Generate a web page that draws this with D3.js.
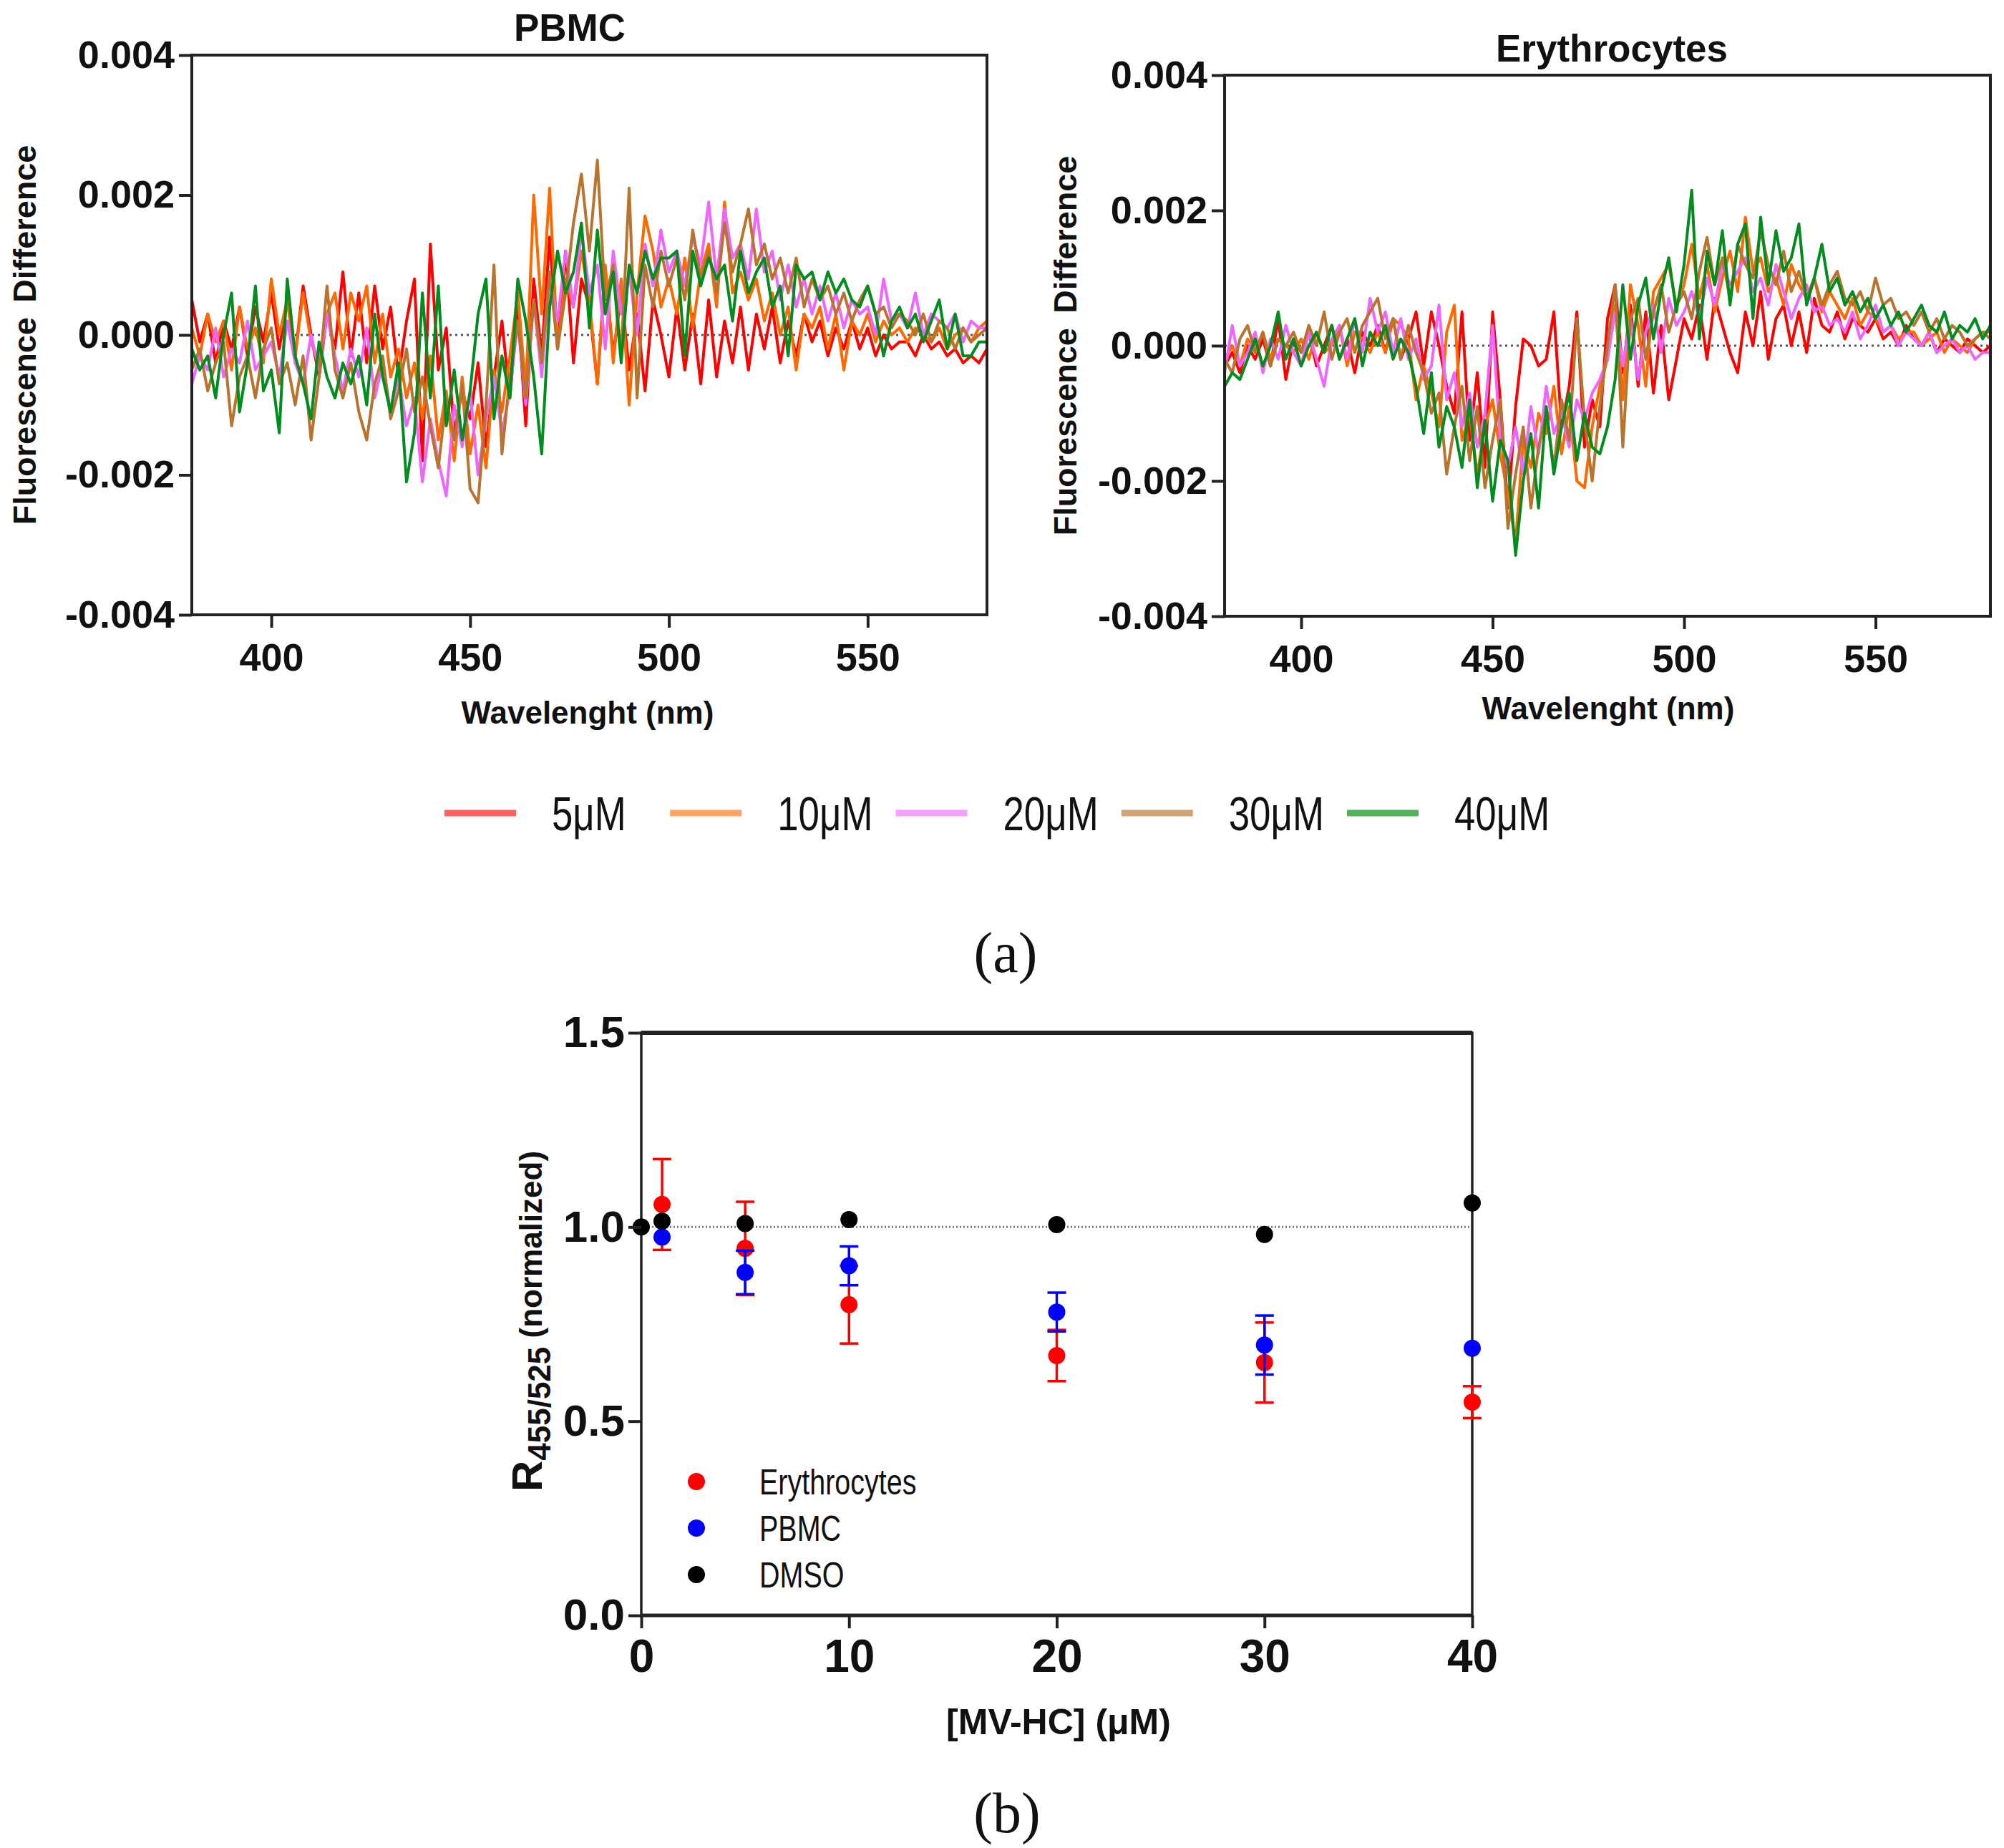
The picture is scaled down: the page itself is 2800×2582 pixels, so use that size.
<!DOCTYPE html>
<html>
<head>
<meta charset="utf-8">
<script src="https://cdn.jsdelivr.net/npm/d3@7"></script>
<style>
body { margin: 0; background: #fff; }
svg text { font-family: "Liberation Sans", Arial, sans-serif; fill: #111; }
</style>
</head>
<body>
<svg id="fig" width="2800" height="2582"></svg>
<script>
// ---- data (spectra, in units of 1e-4) ----
var wavelengths = d3.range(380, 581, 2);
var spectrumUnit = 1e-4;

var pbmc5 = [5,-1,3,-4,2,-2,4,-3,4,-1, 6,-2,5,-3,7,0,-6,3,-2,9, -3,6,-4,7,-2,4,-6,2,8,-18,
	13,-5,1,-14,-8,-12,-4,-16,-6,2, -9,4,-13,8,-3,14,-2,12,-4,8, 4,-7,9,-3,6,-5,3,-8,5,0,
	-6,4,-5,3,-7,5,-6,2,-4,4, -5,3,-2,4,-4,2,-3,3,-1,2, -3,1,-2,2,-2,1,-3,0,-2,-1, -1,-3,0,-2,-1,-3,-2,-4,-3,-4, -2];
var pbmc10 = [1,-3,3,-1,2,-5,4,-2,1,-4, 8,0,5,-3,6,-1,-4,3,6,-2, 6,2,7,-4,3,-6,-2,-9,-4,-12,
	-3,-15,-8,-18,-6,-17,-10,-19,-5,-11, -3,6,-8,20,3,21,-2,8,4,12, 5,-7,10,-4,8,-10,6,17,12,4,
	8,3,11,1,9,13,4,19,6,9, 5,8,2,6,0,4,-5,3,1,4, -2,3,-5,2,0,3,-1,2,0,1, -1,1,0,-1,1,-2,0,1,-1,1, 2];
var pbmc20 = [-7,-3,-5,1,-6,-2,-4,2,-5,-3, -1,-6,2,-4,-7,0,-5,3,-3,-8, -2,-6,1,-9,-4,-11,-6,-13,-9,-21,
	-12,-18,-23,-10,-16,-8,-20,-12,-6,-14, -8,2,-10,5,-6,8,2,12,4,15, 6,10,-2,12,3,9,0,13,7,15,
	9,12,7,14,10,19,8,18,11,13, 8,18,9,12,5,10,4,8,3,7, 2,6,1,5,3,4,0,8,2,3, 1,6,0,3,2,1,3,-1,2,1, 1];
var pbmc30 = [-5,-2,-8,-4,-1,-13,-6,-3,-9,-2, 1,-7,-4,-10,-3,-15,-6,7,-5,-9, -4,-11,-15,-7,-3,-12,-8,-2,-11,-6,
	-13,-19,-9,-15,-7,-22,-24,-10,10,-17, -6,2,-9,5,-4,9,-2,6,16,23, 12,25,5,10,-3,21,-9,10,4,12,
	7,11,5,15,8,12,6,16,9,13, 18,10,13,8,11,6,11,4,8,5, 7,3,6,2,5,7,3,4,1,3, 2,0,3,-1,2,1,-2,1,-1,0, 1];
var pbmc40 = [-2,-5,-3,-9,0,6,-11,-4,7,-8, -5,-14,8,-3,-7,-12,-1,-6,-9,-4, -7,-3,-10,3,-6,-11,-4,-21,-14,6,
	-9,7,-13,-5,-15,-8,3,8,-12,-3, -9,8,2,-6,-17,4,12,6,9,16, 1,15,3,9,-4,10,6,12,8,11,
	11,12,-3,12,7,11,8,10,2,12, 6,9,11,4,7,-3,10,8,9,5, 9,6,8,5,4,7,3,-3,2,4, 1,3,-1,2,5,-2,3,-3,-3,-1, -1];

var ery5 = [-3,-1,-4,0,-2,1,-3,4,-5,1, -1,2,-3,0,3,-2,1,-4,2,0, 3,-1,4,-2,1,5,-3,5,0,-6,
	-10,5,-14,-4,-18,5,-8,-24,-9,1, 0,-3,-2,5,-12,-6,5,-15,-8,-12, 4,9,-4,6,-6,5,-7,3,-8,-2,
	4,1,6,-2,7,3,-1,-4,5,0, 8,-2,4,6,0,5,-1,7,3,2, 5,1,4,3,2,4,1,2,0,3, 1,0,2,-1,1,0,-1,1,0,-1, 0];
var ery10 = [-2,0,-3,1,-1,2,-2,1,0,-1, 1,-2,2,-1,0,3,-3,2,1,-1, 2,-1,4,3,1,-8,-3,-7,-12,2,
	6,-14,-10,-19,-12,-8,-16,-22,-29,-14, -18,-10,-13,-6,-16,-9,-20,-21,-12,-6, -2,6,-8,9,3,-6,8,10,12,6,
	9,15,7,12,5,10,14,8,19,11, 13,8,10,6,12,9,7,10,5,8, 6,4,7,3,5,4,2,3,1,2, 2,0,1,2,-1,1,0,-1,1,2, 2];
var ery20 = [-4,3,-3,-1,2,-4,1,-2,3,-1, -3,2,-2,-6,1,3,-2,4,-1,7, 2,5,-1,4,-2,1,-5,-3,6,-8,
	-4,-12,-7,-15,-10,3,-14,-18,-12,-19, -9,-16,-6,-13,-10,-15,-8,-11,-7,-5, -2,5,-3,4,-5,2,6,-1,7,3,
	5,8,4,10,6,12,9,11,13,8, 10,6,12,8,4,7,9,5,6,3, 4,2,5,1,3,6,2,3,0,2, 1,0,2,-1,0,1,-1,0,-2,-1, -1];
var ery30 = [-2,-4,1,3,-1,2,-3,1,0,2, -1,3,0,5,-2,2,4,-1,3,5, 7,1,4,-2,3,-1,-4,-10,-7,-19,
	-12,-6,-17,-9,-21,-14,-8,-27,-19,-12, -24,-15,-10,-18,-8,-14,4,-11,-20,-9, 0,9,-15,4,7,-2,5,9,2,6,
	8,4,11,16,9,13,7,15,12,10, 17,12,9,14,8,11,7,10,6,9, 11,7,6,8,5,10,6,7,4,5, 3,5,2,4,1,3,2,0,1,2, 1];
var ery40 = [-6,-4,-5,-2,1,-3,0,5,-2,1, -3,0,2,-1,3,-2,1,4,-3,2, 0,3,-2,1,-1,-6,-13,-4,-15,-9,
	-12,-18,-8,-21,-11,-23,-14,-17,-31,-20, -13,-24,-9,-19,-12,-7,-17,-10,-15,-16, -12,-5,9,-2,6,10,1,8,13,5,
	12,23,1,14,9,17,6,15,18,4, 19,9,17,11,13,18,6,10,15,8, 10,6,8,5,7,4,6,3,5,2, 4,6,3,2,5,1,3,2,4,1, 3];

var concLabels = ["5μM", "10μM", "20μM", "30μM", "40μM"];
var fluorTicks = [-0.004, -0.002, 0, 0.002, 0.004];
var waveTicks = [400, 450, 500, 550];

// ratio R455/525 versus [MV-HC]
var dmsoConc = [0, 1, 5, 10, 20, 30, 40];
var dmsoRatio = [1.0, 1.015, 1.009, 1.019, 1.006, 0.981, 1.062];
var cellConc = [1, 5, 10, 20, 30, 40];
var eryRatio = [1.058, 0.945, 0.80, 0.669, 0.651, 0.549];
var eryErr = [0.117, 0.12, 0.10, 0.066, 0.103, 0.041];
var pbmcRatio = [0.974, 0.883, 0.90, 0.781, 0.696, 0.688];
var pbmcErr = [0, 0.056, 0.05, 0.05, 0.076, 0];
var ratioTicks = [0, 0.5, 1.0, 1.5];
var concTicks = [0, 10, 20, 30, 40];

// ---- drawing ----
var lineColors = ["#ff0000", "#ff6a00", "#ee66ff", "#b8742e", "#008c1e"];
var legendColors = ["#ff6060", "#ffa464", "#f4a4ff", "#cfa373", "#52b058"];

var svg = d3.select("#fig");

function styleAxis(g, size) {
	g.select(".domain").remove();
	g.selectAll(".tick line").attr("stroke", "#222").attr("stroke-width", 4);
	g.selectAll(".tick text")
		.attr("fill", "#111")
		.style("font-family", '"Liberation Sans", Arial, sans-serif')
		.style("font-weight", "bold")
		.style("font-size", size + "px");
}

function spectrumPanel(box, series) {
	var x = d3.scaleLinear().domain([380, 580]).range([box.left, box.right]);
	var y = d3.scaleLinear().domain([-0.004, 0.004]).range([box.bottom, box.top]);
	var g = svg.append("g");

	g.append("line")
		.attr("x1", box.left).attr("x2", box.right)
		.attr("y1", y(0)).attr("y2", y(0))
		.attr("stroke", "#555").attr("stroke-width", 3)
		.attr("stroke-dasharray", "3,5");

	var line = d3.line()
		.x(function(d, i) { return x(wavelengths[i]); })
		.y(function(d) { return y(d * spectrumUnit); });

	series.forEach(function(s, i) {
		g.append("path")
			.attr("d", line(s))
			.attr("fill", "none")
			.attr("stroke", lineColors[i])
			.attr("stroke-width", 4)
			.attr("stroke-linejoin", "round");
	});

	g.append("rect")
		.attr("x", box.left).attr("y", box.top)
		.attr("width", box.right - box.left).attr("height", box.bottom - box.top)
		.attr("fill", "none").attr("stroke", "#222").attr("stroke-width", 4);

	var yAxis = d3.axisLeft(y).tickValues(fluorTicks).tickSize(18).tickPadding(6)
		.tickFormat(function(d) { return d.toFixed(3); });
	g.append("g").attr("transform", "translate(" + box.left + ",0)")
		.call(yAxis).call(styleAxis, 54);

	var xAxis = d3.axisBottom(x).tickValues(waveTicks).tickSize(18).tickPadding(22);
	g.append("g").attr("transform", "translate(0," + box.bottom + ")")
		.call(xAxis).call(styleAxis, 54);

	g.append("text")
		.attr("x", box.titleX).attr("y", box.titleY)
		.attr("text-anchor", "middle").attr("font-weight", "bold").attr("font-size", 53)
		.text(box.title);
	g.append("text")
		.attr("x", box.xTitleX).attr("y", box.xTitleY)
		.attr("text-anchor", "middle").attr("font-weight", "bold").attr("font-size", 44)
		.text("Wavelenght (nm)");
	g.append("text")
		.attr("transform", "translate(" + box.yTitleX + "," + (box.top + box.bottom) / 2 + ") rotate(-90)")
		.attr("text-anchor", "middle").attr("font-weight", "bold").attr("font-size", 45)
		.attr("word-spacing", 8)
		.text("Fluorescence Difference");
}

spectrumPanel({left: 268, right: 1379, top: 77, bottom: 859, title: "PBMC",
	titleX: 796, titleY: 57, xTitleX: 821, xTitleY: 1011, yTitleX: 50},
	[pbmc5, pbmc10, pbmc20, pbmc30, pbmc40]);
spectrumPanel({left: 1711, right: 2781, top: 105, bottom: 861, title: "Erythrocytes",
	titleX: 2252, titleY: 86, xTitleX: 2247, xTitleY: 1005, yTitleX: 1504},
	[ery5, ery10, ery20, ery30, ery40]);

// legend for the spectra (condensed labels)
var legX = d3.scalePoint().domain(concLabels).range([621, 1882]);
var leg = svg.append("g").selectAll("g").data(concLabels).enter().append("g")
	.attr("transform", function(d) { return "translate(" + legX(d) + ",1136)"; });
leg.append("line").attr("x1", 0).attr("x2", 100)
	.attr("stroke", function(d, i) { return legendColors[i]; }).attr("stroke-width", 9);
leg.append("text").attr("transform", "translate(150,24) scale(0.8,1)")
	.attr("font-size", 66).attr("fill", "#222").text(function(d) { return d; });

svg.append("text").attr("x", 1405).attr("y", 1358).attr("text-anchor", "middle")
	.style("font-family", '"Liberation Serif", "DejaVu Serif", serif').attr("font-size", 80).text("(a)");

// ---- panel b ----
(function() {
	var box = {left: 896, right: 2057, top: 1443, bottom: 2257};
	var x = d3.scaleLinear().domain([0, 40]).range([box.left, box.right]);
	var y = d3.scaleLinear().domain([0, 1.5]).range([box.bottom, box.top]);
	var g = svg.append("g");

	g.append("line")
		.attr("x1", box.left).attr("x2", box.right)
		.attr("y1", y(1)).attr("y2", y(1))
		.attr("stroke", "#777").attr("stroke-width", 3).attr("stroke-dasharray", "2,3");

	// frame: heavier top and bottom lines
	g.append("rect")
		.attr("x", box.left).attr("y", box.top)
		.attr("width", box.right - box.left).attr("height", box.bottom - box.top)
		.attr("fill", "none").attr("stroke", "#222").attr("stroke-width", 3.5);
	g.append("line").attr("x1", box.left).attr("x2", box.right).attr("y1", box.top).attr("y2", box.top)
		.attr("stroke", "#222").attr("stroke-width", 6);
	g.append("line").attr("x1", box.left).attr("x2", box.right).attr("y1", box.bottom).attr("y2", box.bottom)
		.attr("stroke", "#222").attr("stroke-width", 5);

	function drawSeries(conc, vals, errs, color) {
		var s = g.append("g");
		conc.forEach(function(c, i) {
			if (!errs || !errs[i]) return;
			var cx = x(c), y1 = y(vals[i] + errs[i]), y2 = y(vals[i] - errs[i]);
			s.append("line").attr("x1", cx).attr("x2", cx).attr("y1", y1).attr("y2", y2)
				.attr("stroke", color).attr("stroke-width", 3.5);
			[y1, y2].forEach(function(yy) {
				s.append("line").attr("x1", cx - 13).attr("x2", cx + 13).attr("y1", yy).attr("y2", yy)
					.attr("stroke", color).attr("stroke-width", 3.5);
			});
		});
		s.selectAll("circle").data(conc).enter().append("circle")
			.attr("cx", function(d) { return x(d); })
			.attr("cy", function(d, i) { return y(vals[i]); })
			.attr("r", 12).attr("fill", color);
	}
	drawSeries(cellConc, eryRatio, eryErr, "#ff0000");
	drawSeries(cellConc, pbmcRatio, pbmcErr, "#0000ff");
	drawSeries(dmsoConc, dmsoRatio, null, "#000000");

	var yAxis = d3.axisLeft(y).tickValues(ratioTicks).tickSize(18).tickPadding(5)
		.tickFormat(d3.format(".1f"));
	g.append("g").attr("transform", "translate(" + box.left + ",0)")
		.call(yAxis).call(styleAxis, 62);
	var xAxis = d3.axisBottom(x).tickValues(concTicks).tickSize(18).tickPadding(16);
	g.append("g").attr("transform", "translate(0," + box.bottom + ")")
		.call(xAxis).call(styleAxis, 64);

	g.append("text").attr("x", 1479).attr("y", 2423).attr("text-anchor", "middle")
		.attr("font-weight", "bold").attr("font-size", 50).text("[MV-HC] (μM)");

	var yt = g.append("text").attr("transform", "translate(757,1846) rotate(-90)")
		.attr("text-anchor", "middle").attr("font-weight", "bold");
	yt.append("tspan").attr("font-size", 60).text("R");
	yt.append("tspan").attr("font-size", 44).attr("dy", 12).text("455/525");
	yt.append("tspan").attr("font-size", 44).attr("dy", -12).text(" (normalized)");

	var legNames = ["Erythrocytes", "PBMC", "DMSO"];
	var legCols = ["#ff0000", "#0000ff", "#000000"];
	var legY = d3.scalePoint().domain(legNames).range([2070, 2200]);
	var lg = g.append("g").selectAll("g").data(legNames).enter().append("g")
		.attr("transform", function(d) { return "translate(973," + legY(d) + ")"; });
	lg.append("circle").attr("r", 12).attr("fill", function(d, i) { return legCols[i]; });
	lg.append("text").attr("transform", "translate(88,18) scale(0.79,1)")
		.attr("font-size", 50).attr("fill", "#222").text(function(d) { return d; });
})();

svg.append("text").attr("x", 1407).attr("y", 2560).attr("text-anchor", "middle")
	.style("font-family", '"Liberation Serif", "DejaVu Serif", serif').attr("font-size", 80).text("(b)");
</script>
</body>
</html>
